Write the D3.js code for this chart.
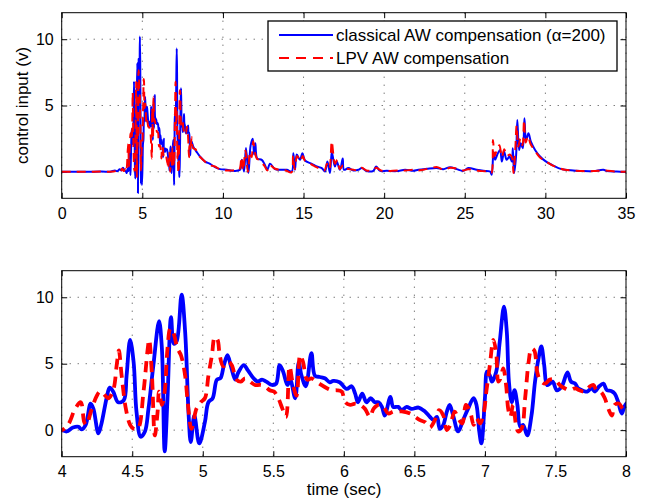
<!DOCTYPE html>
<html>
<head>
<meta charset="utf-8">
<script src="https://cdn.jsdelivr.net/npm/d3@7"></script>
<style>
  body { margin: 0; background: #fff; }
  svg { display: block; font-family: "Liberation Sans", Arial, Helvetica, sans-serif; }
</style>
</head>
<body>
<svg class="chart"></svg>
<script>
// values: time (sec) / control input (v)
var blueTime = [0, 1.5, 2.5, 3.0, 3.3, 3.45, 3.6, 3.7, 3.8, 3.9, 4.0,
  4.035, 4.08, 4.12, 4.14, 4.17, 4.205, 4.225, 4.26, 4.28, 4.32, 4.34, 4.365, 4.40, 4.44,
  4.46, 4.485, 4.51, 4.53, 4.56, 4.59, 4.615, 4.65, 4.69, 4.71, 4.73, 4.75, 4.775, 4.795,
  4.815, 4.85, 4.875, 4.90, 4.915, 4.94, 4.975, 5.015, 5.04, 5.07, 5.10, 5.125, 5.15, 5.175,
  5.20, 5.23, 5.25, 5.29, 5.32, 5.36, 5.39, 5.42, 5.45, 5.49, 5.52, 5.545, 5.57, 5.60, 5.62,
  5.655, 5.68, 5.70, 5.73, 5.77, 5.795, 5.83, 5.865, 5.90, 5.925, 5.97, 6.02, 6.055, 6.08,
  6.10, 6.13, 6.16, 6.19, 6.22, 6.245, 6.27, 6.29, 6.33, 6.35, 6.385, 6.41, 6.445, 6.48,
  6.53, 6.575, 6.61, 6.635, 6.66, 6.68, 6.705, 6.73, 6.75, 6.775, 6.81, 6.845, 6.88, 6.92,
  6.94, 6.96, 6.975, 7.0, 7.015, 7.035, 7.05, 7.08, 7.105, 7.135, 7.155, 7.17, 7.19, 7.21,
  7.23, 7.25, 7.27, 7.30, 7.33, 7.355, 7.38, 7.40, 7.42, 7.44, 7.46, 7.48, 7.51, 7.545,
  7.585, 7.61, 7.64, 7.66, 7.70, 7.725, 7.755, 7.78, 7.81, 7.84, 7.865, 7.895, 7.92, 7.945,
  7.97, 7.995,
  8.05, 8.16, 8.37, 8.58, 8.89, 9.2, 9.51, 9.82, 10.24, 10.65, 11.06, 11.18, 11.31, 11.43,
  11.58, 11.72, 11.85, 11.93, 12.01, 12.13, 12.41, 12.61, 12.75, 12.92, 13.23, 13.54, 13.96,
  14.27, 14.37, 14.47, 14.58, 14.78, 14.93, 15.09, 15.51, 15.82, 16.13, 16.33, 16.48, 16.64,
  16.75, 16.85, 16.95, 17.06, 17.26, 17.43, 17.51, 17.78, 18.09, 18.4, 18.61, 18.92, 19.33,
  19.5, 19.75, 20.16, 20.78, 21.3, 21.81, 22.12, 22.64, 23.26, 23.67, 24.09, 24.5, 24.91,
  25.22, 25.74, 26.15, 26.57, 26.67, 26.78, 26.88, 27.02, 27.19, 27.3, 27.44, 27.6, 27.77,
  27.92, 27.98, 28.06, 28.18, 28.26, 28.37, 28.47, 28.6, 28.7, 28.8, 28.95, 29.1, 29.36,
  29.67, 29.98, 30.4, 30.81, 31.22, 31.74, 32.36, 32.98, 33.6, 33.81, 34.43, 35];
var blueValue = [0, 0, 0.02, 0, 0.1, 0.05, 0.2, 0.1, 0.3, 0.1, 0,
  -0.1, 0.2, 0.25, 0.05, 0.4, 2.0, 1.6, -0.25, 0.4, 2.5, 3.2, 2.9, 2.1, 2.25,
  4.1, 6.8, 5.1, 1.4, -0.5, -0.1, 1.6, 4.9, 8.2, 6.2, -1.6, 2.4, 8.5, 6.5,
  6.7, 10.2, 7.4, 1.1, -0.9, 1.1, -1.0, 0.6, 2.1, 2.4, 3.8, 3.9, 4.9, 5.65,
  4.8, 3.8, 4.3, 4.9, 4.5, 3.9, 3.65, 3.8, 3.65, 3.4, 3.5, 4.9, 4.4, 3.4, 3.8,
  2.4, 5.1, 4.1, 3.3, 5.8, 4.1, 4.0, 3.9, 3.6, 3.7, 3.6, 3.1, 3.3, 2.75,
  2.1, 2.75, 2.1, 2.4, 2.1, 2.1, 1.75, 1.1, 2.5, 1.75, 1.75, 1.5, 1.75, 1.6,
  1.7, 1.4, 1.0, 0.75, 1.0, 0.1, 0.4, 1.4, 1.9, 1.1, -0.1, 0.75, 1.6, 2.4,
  1.9, -0.1, -1.0, 2.4, 4.4, 4.1, 3.65, 4.4, 6.65, 9.3, 7.4, 3.65, 2.1, 3.0,
  1.9, 0.25, 0.4, -0.4, 1.1, 3.65, 5.4, 6.3, 4.9, 3.4, 3.5, 3.65, 3.0, 3.3,
  4.35, 3.65, 3.5, 3.15, 2.95, 2.9, 3.15, 2.9, 3.3, 3.5, 3.0, 2.95, 2.75, 2.1,
  1.25, 1.9,
  2.3, 1.9, 1.5, 1.15, 0.77, 0.6, 0.35, 0.2, 0.15, 0.07, 0.15, 0.9, 0.02, 1.8,
  -0.1, 2.0, 2.5, 1.3, 2.15, 1.0, 0.9, 0.5, 0.15, 0.6, 0.2, 0.15, 0.15,
  0.02, 1.4, 0.15, 1.3, 0.9, 1.4, 0.85, 0.6, 0.4, 0.28, 0.02, 0.77, -0.1,
  1.5, 0.9, 0.4, 0.77, 0.15, 1.0, 0.15, 0.28, 0.1, 0.15, 0.28, 0.05, 0.07,
  0.4, 0.07, 0.07, 0.05, 0.15, 0.07, 0.15, 0.22, 0.28, 0.2, 0.35, 0.2, 0.07,
  0.28, 0.15, 0.07, 0.02, -0.22, 1.5, 0.9, 1.3, 1.65, 0.77, 1.52, 0.9, 1.15,
  0.77, 1.78, -0.1, 1.15, 3.9, 1.65, 2.15, 1.78, 4.03, 2.4, 2.9, 2.27, 1.65,
  1.15, 0.82, 0.52, 0.28, 0.15, 0.1, 0.05, 0.05, 0.15, 0.05, 0.02, 0];

var redTime = [0, 1.5, 2.5, 3.0, 3.35, 3.5, 3.65, 3.75, 3.85, 3.95, 4.0,
  4.045, 4.095, 4.135, 4.16, 4.175, 4.21, 4.245, 4.27, 4.295, 4.33, 4.365, 4.39, 4.405,
  4.425, 4.455, 4.485, 4.51, 4.54, 4.58, 4.61, 4.62, 4.64, 4.66, 4.68, 4.69, 4.71, 4.73,
  4.75, 4.77, 4.79, 4.82, 4.845, 4.875, 4.895, 4.92, 4.955, 4.985, 5.015, 5.04, 5.065,
  5.085, 5.105, 5.12, 5.145, 5.18, 5.205, 5.24, 5.27, 5.30, 5.335, 5.37, 5.405, 5.44,
  5.475, 5.505, 5.535, 5.565, 5.59, 5.615, 5.64, 5.665, 5.69, 5.71, 5.74, 5.77, 5.805,
  5.84, 5.88, 5.915, 5.95, 5.985, 6.01, 6.045, 6.08, 6.115, 6.15, 6.185, 6.21, 6.245,
  6.28, 6.315, 6.35, 6.385, 6.42, 6.47, 6.505, 6.54, 6.575, 6.61, 6.645, 6.675, 6.705,
  6.73, 6.755, 6.785, 6.81, 6.84, 6.865, 6.895, 6.92, 6.94, 6.965, 6.99, 7.01, 7.035,
  7.06, 7.08, 7.095, 7.11, 7.13, 7.15, 7.165, 7.18, 7.20, 7.22, 7.235, 7.26, 7.285, 7.31,
  7.33, 7.35, 7.37, 7.39, 7.425, 7.46, 7.495, 7.53, 7.565, 7.60, 7.64, 7.67, 7.71, 7.745,
  7.77, 7.79, 7.82, 7.85, 7.875, 7.90, 7.92, 7.95, 7.98, 8.0,
  8.06, 8.14, 8.3, 8.45, 8.6, 8.9, 9.2, 9.5, 9.8, 10.2, 10.6, 11.0, 11.15, 11.25, 11.4,
  11.55, 11.68, 11.78, 11.88, 11.98, 12.1, 12.25, 12.4, 12.6, 12.75, 12.9, 13.2, 13.5,
  13.9, 14.25, 14.35, 14.45, 14.6, 14.8, 14.95, 15.1, 15.5, 15.8, 16.1, 16.3, 16.45, 16.6,
  16.75, 16.85, 16.95, 17.1, 17.25, 17.45, 17.6, 17.8, 18.1, 18.4, 18.6, 18.9, 19.3, 19.5,
  19.8, 20.2, 20.8, 21.3, 21.8, 22.1, 22.6, 23.3, 23.7, 24.1, 24.5, 24.9, 25.2, 25.7,
  26.1, 26.5, 26.65, 26.75, 26.85, 27.0, 27.15, 27.3, 27.45, 27.6, 27.8, 27.95, 28.02,
  28.12, 28.22, 28.32, 28.45, 28.58, 28.68, 28.78, 28.92, 29.08, 29.35, 29.65, 30.0,
  30.4, 30.8, 31.2, 31.7, 32.3, 33.0, 33.6, 34.4, 35];
var redValue = [0, 0, 0.02, 0, 0.05, 0.15, 0.05, 0.25, 0.05, 0.2, 0,
  0.4, 1.6, 2.1, 0.6, 0.4, 1.5, 2.5, 2.9, 2.75, 2.4, 3.0, 4.9, 6.0,
  4.1, 1.6, 0.4, 0.1, 0.1, 2.9, 6.15, 6.8, 4.1, -0.4, 1.4, 2.9, 1.9, 2.9,
  6.15, 7.65, 7.4, 6.15, 5.65, 4.1, 1.9, 0.1, 1.6, 2.1, 2.4, 4.1, 5.65,
  7.0, 6.8, 5.65, 4.8, 5.15, 4.9, 3.8, 3.65, 3.9, 3.65, 3.4, 3.4, 3.3,
  3.0, 2.9, 2.4, 1.6, 1.0, 4.8, 3.4, 2.6, 5.65, 5.15, 3.8, 3.9, 3.65,
  3.4, 3.15, 3.0, 3.0, 2.9, 2.1, 1.9, 2.0, 1.9, 1.6, 1.0, 1.6, 1.9,
  1.75, 1.25, 1.4, 1.4, 1.4, 1.25, 1.0, 0.75, 0.6, 0.2, 0.75, 1.5, 1.1,
  0.0, 0.4, 1.4, 0.9, 0.5, 1.9, 1.4, 0.4, 0.9, 0.5, 1.2, 2.9, 4.9,
  6.8, 5.8, 3.65, 3.9, 4.65, 3.4, 1.6, 1.0, 1.9, 0.4, -0.1, 0.1, 2.4, 5.15,
  6.15, 6.0, 4.4, 3.8, 3.5, 3.8, 3.8, 3.4, 3.15, 3.0, 3.15, 3.0, 2.9, 3.3,
  3.4, 3.0, 2.9, 2.4, 1.6, 1.1, 1.9, 2.0, 1.6, 1.75,
  2.6, 1.8, 1.7, 1.3, 1.1, 0.75, 0.5, 0.4, 0.2, 0.1, 0.1, 0.12, 1.1, 0.1, 1.6,
  0.0, 1.5, 1.1, 2.3, 1.5, 1.0, 0.9, 0.7, 0.4, 0.1, 0.5, 0.25, 0.15,
  0.1, -0.05, 1.2, 0.2, 1.2, 0.8, 1.2, 0.8, 0.55, 0.35, 0.2, 0.1, 0.6, 0.2,
  2.3, 1.3, 0.6, 0.9, 0.2, 0.5, 0.25, 0.2, 0.15, 0.1, 0.3, 0.1, 0.1, 0.3,
  0.1, 0.05, 0.1, 0.1, 0.15, 0.1, 0.2, 0.35, 0.15, 0.3, 0.25, 0.1, 0.2, 0.1,
  0.05, 0.0, -0.1, 2.4, 1.2, 1.7, 2.0, 1.1, 1.7, 1.2, 1.3, 1.0, -0.1,
  1.4, 3.5, 1.9, 2.5, 2.0, 3.9, 2.2, 2.7, 2.1, 1.6, 1.1, 0.8,
  0.5, 0.3, 0.15, 0.1, 0.05, 0.05, 0.1, 0.02, 0];

var topTicks = [0, 5, 10, 15, 20, 25, 30, 35];
var bottomTicks = [4, 4.5, 5, 5.5, 6, 6.5, 7, 7.5, 8];
var yTicks = [0, 5, 10];
var legendLabels = ["classical AW compensation (\u03b1=200)", "LPV AW compensation"];

var fontFamily = "'Liberation Sans', Arial, Helvetica, sans-serif";

var svg = d3.select(".chart")
  .attr("width", 652)
  .attr("height", 502);

svg.append("rect").attr("width", 652).attr("height", 502).attr("fill", "#fff");

var blueData = d3.zip(blueTime, blueValue),
  redData = d3.zip(redTime, redValue);

function drawPanel(p){
  var x = d3.scaleLinear().domain(p.xDomain).range([p.left, p.right]),
    y = d3.scaleLinear().domain([-2, 12]).range([p.bottom, p.top]);

  var g = svg.append("g");

  svg.append("clipPath").attr("id", p.id)
    .append("rect")
    .attr("x", p.left).attr("y", p.top)
    .attr("width", p.right - p.left).attr("height", p.bottom - p.top);

  //dotted grid
  g.selectAll(".gx").data(p.xTicks).enter().append("line")
    .attr("x1", function(d){ return x(d); }).attr("x2", function(d){ return x(d); })
    .attr("y1", p.top).attr("y2", p.bottom)
    .attr("stroke", "#444").attr("stroke-width", 1)
    .attr("stroke-dasharray", "1,7");
  g.selectAll(".gy").data(yTicks).enter().append("line")
    .attr("x1", p.left).attr("x2", p.right)
    .attr("y1", function(d){ return y(d); }).attr("y2", function(d){ return y(d); })
    .attr("stroke", "#444").attr("stroke-width", 1)
    .attr("stroke-dasharray", "1,7");

  //axes, ticks pointing inward on all four sides
  function style(a){
    a.attr("font-family", fontFamily).attr("font-size", 16);
    a.select(".domain").remove();
    a.selectAll("text").attr("fill", "#000");
  }
  g.append("g").attr("transform", "translate(0," + p.bottom + ")")
    .call(d3.axisBottom(x).tickValues(p.xTicks).tickSize(-5.5).tickPadding(9).tickFormat(function(d){ return String(d); }))
    .call(style);
  g.append("g").attr("transform", "translate(0," + p.top + ")")
    .call(d3.axisTop(x).tickValues(p.xTicks).tickSize(-5.5).tickFormat(""))
    .call(style);
  g.append("g").attr("transform", "translate(" + p.left + ",0)")
    .call(d3.axisLeft(y).tickValues(yTicks).tickSize(-5.5).tickPadding(8))
    .call(style);
  g.append("g").attr("transform", "translate(" + p.right + ",0)")
    .call(d3.axisRight(y).tickValues(yTicks).tickSize(-5.5).tickFormat(""))
    .call(style);

  var line = d3.line()
    .x(function(d){ return x(d[0]); })
    .y(function(d){ return y(d[1]); })
    .curve(d3.curveCatmullRom.alpha(0.5));

  var lines = g.append("g").attr("clip-path", "url(#" + p.id + ")");
  lines.append("path").datum(blueData)
    .attr("d", line)
    .attr("fill", "none").attr("stroke", "#0000ff")
    .attr("stroke-width", p.width).attr("stroke-linejoin", "round");
  lines.append("path").datum(redData)
    .attr("d", line)
    .attr("fill", "none").attr("stroke", "#ff0000")
    .attr("stroke-width", p.width).attr("stroke-dasharray", p.dash);

  g.append("rect")
    .attr("x", p.left).attr("y", p.top)
    .attr("width", p.right - p.left).attr("height", p.bottom - p.top)
    .attr("fill", "none").attr("stroke", "#000").attr("stroke-width", 1);
}

drawPanel({id: "clipTop", xDomain: [0, 35], xTicks: topTicks,
  left: 61.7, right: 626, top: 12.7, bottom: 198.3, width: 2, dash: "9,6"});
drawPanel({id: "clipBottom", xDomain: [4, 8], xTicks: bottomTicks,
  left: 61.7, right: 626, top: 270.7, bottom: 456.7, width: 3.8, dash: "11,7"});

//legend
var legend = svg.append("g");
legend.append("rect")
  .attr("x", 268).attr("y", 21).attr("width", 349).attr("height", 50)
  .attr("fill", "#fff").attr("stroke", "#000").attr("stroke-width", 1.3);
var legendColors = ["#0000ff", "#ff0000"],
  legendDash = [null, "10,7"];
legend.selectAll(".item").data(legendLabels).enter().append("g")
  .attr("transform", function(d, i){ return "translate(0," + (35 + i * 23) + ")"; })
  .each(function(d, i){
    var item = d3.select(this);
    item.append("line")
      .attr("x1", 279).attr("x2", 333)
      .attr("stroke", legendColors[i]).attr("stroke-width", 2)
      .attr("stroke-dasharray", legendDash[i]);
    item.append("text")
      .attr("x", 336).attr("y", 5.8)
      .attr("font-family", fontFamily).attr("font-size", 17)
      .text(d);
  });

//axis labels
svg.append("text")
  .attr("transform", "translate(22,105.5) rotate(-90)")
  .attr("text-anchor", "middle").attr("dy", "0.35em")
  .attr("font-family", fontFamily).attr("font-size", 17)
  .text("control input (v)");
svg.append("text")
  .attr("x", 344).attr("y", 495)
  .attr("text-anchor", "middle")
  .attr("font-family", fontFamily).attr("font-size", 17)
  .text("time (sec)");
</script>
</body>
</html>
